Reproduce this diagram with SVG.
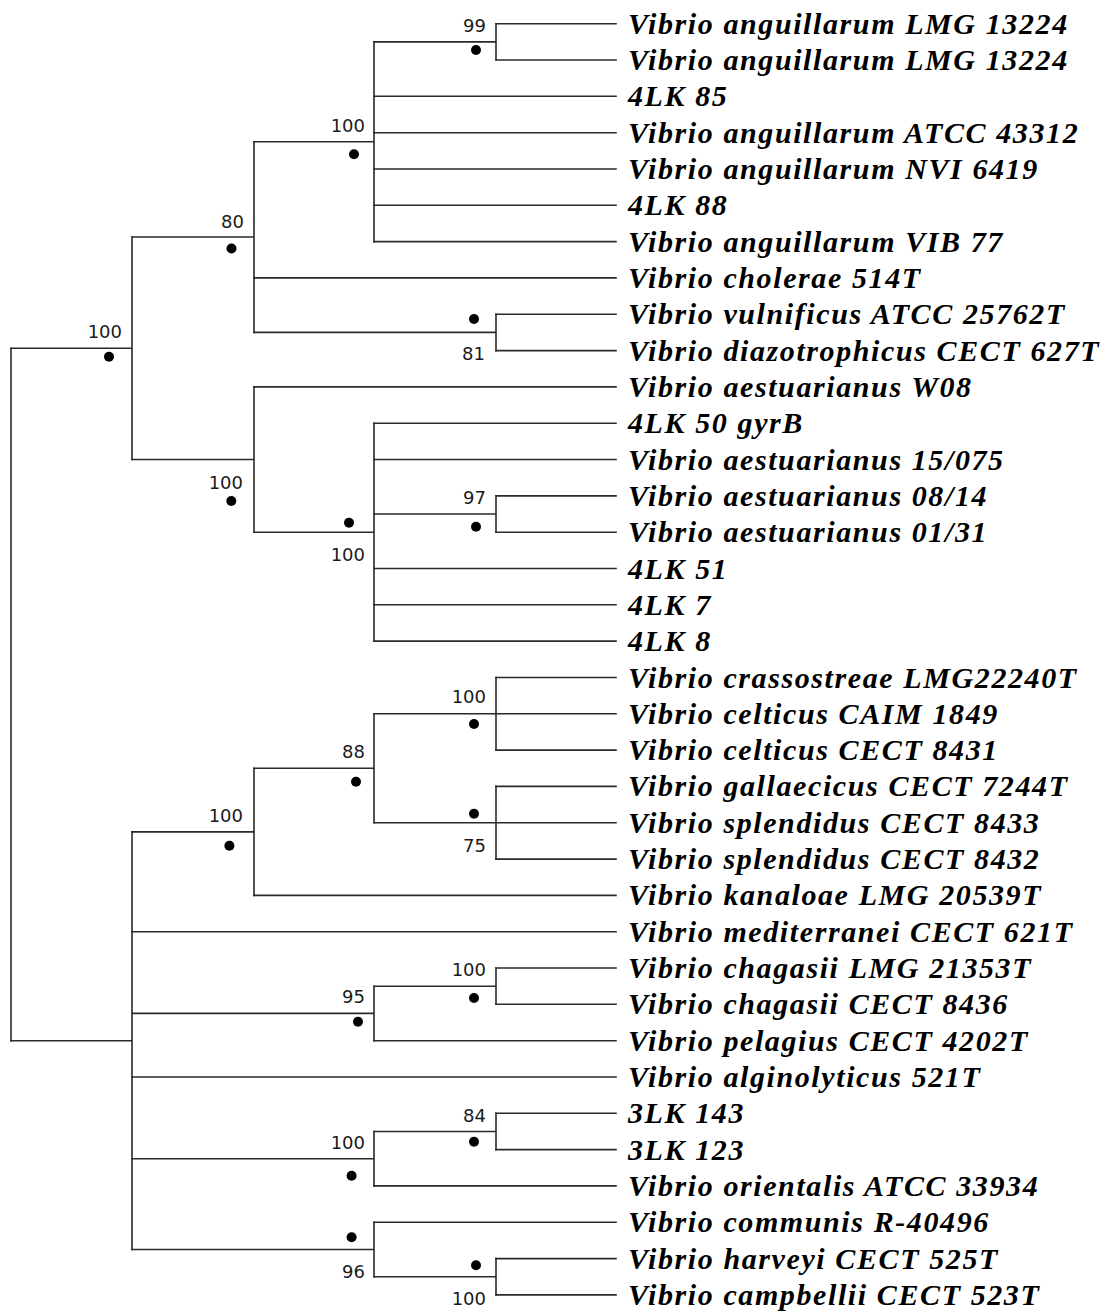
<svg xmlns="http://www.w3.org/2000/svg" width="1105" height="1313" viewBox="0 0 1105 1313">
<style>
.br{fill:none;stroke:#2a2a2a;stroke-width:1.6;stroke-linecap:square}
.lf{font-family:"Liberation Serif","Times New Roman",serif;font-weight:bold;font-style:italic;font-size:30px;letter-spacing:1.6px;fill:#000}
.bs{font-family:"DejaVu Sans",Verdana,sans-serif;font-size:18px;fill:#1a1a1a;text-anchor:end}
.dt{fill:#000}
</style>
<rect width="1105" height="1313" fill="#fff"/>
<g id="connectors" class="br">
<path d="M11 348.3V1040.7"/>
<path d="M11 348.3H132M132 237V459.5"/>
<path d="M132 237H254M254 141.7V332.4"/>
<path d="M254 141.7H374M374 41.9V241.6"/>
<path d="M374 41.9H496M496 23.7V60"/>
<path d="M254 332.4H496M496 314.3V350.6"/>
<path d="M132 459.5H254M254 386.9V532.2"/>
<path d="M254 532.2H374M374 423.2V641.1"/>
<path d="M374 514H496M496 495.9V532.2"/>
<path d="M11 1040.7H132M132 831.9V1249.5"/>
<path d="M132 831.9H254M254 768.3V895.4"/>
<path d="M254 768.3H374M374 713.8V822.7"/>
<path d="M374 713.8H496M496 677.5V750.1"/>
<path d="M374 822.7H496M496 786.4V859.1"/>
<path d="M132 1013.4H374M374 986.2V1040.7"/>
<path d="M374 986.2H496M496 968V1004.3"/>
<path d="M132 1158.7H374M374 1131.5V1185.9"/>
<path d="M374 1131.5H496M496 1113.3V1149.6"/>
<path d="M132 1249.5H374M374 1222.3V1276.7"/>
<path d="M374 1276.7H496M496 1258.6V1294.9"/>
<path d="M496 23.7H616M496 60H616M374 96.3H616M374 132.7H616M374 169H616M374 205.3H616M374 241.6H616M254 277.9H616M496 314.3H616M496 350.6H616"/>
<path d="M254 386.9H616M374 423.2H616M374 459.5H616M496 495.9H616M496 532.2H616M374 568.5H616M374 604.8H616M374 641.1H616"/>
<path d="M496 677.5H616M496 713.8H616M496 750.1H616M496 786.4H616M496 822.7H616M496 859.1H616M254 895.4H616M132 931.7H616"/>
<path d="M496 968H616M496 1004.3H616M374 1040.7H616M132 1077H616M496 1113.3H616M496 1149.6H616M374 1185.9H616M374 1222.3H616M496 1258.6H616M496 1294.9H616"/>
</g>
<g id="n-root-a"><text class="bs" x="122" y="337.7">100</text><circle class="dt" cx="109" cy="356.7" r="5"/></g>
<g id="n-b"><text class="bs" x="244" y="227.7">80</text><circle class="dt" cx="231.5" cy="248.5" r="5"/></g>
<g id="n-d"><text class="bs" x="365" y="131.7">100</text><circle class="dt" cx="354" cy="154.3" r="5"/></g>
<g id="n-f"><text class="bs" x="486" y="32.3">99</text><circle class="dt" cx="476" cy="50" r="5"/></g>
<g id="n-e"><circle class="dt" cx="474" cy="319" r="5"/><text class="bs" x="485" y="360">81</text></g>
<g id="n-c"><text class="bs" x="243" y="489">100</text><circle class="dt" cx="231.3" cy="501" r="5"/></g>
<g id="n-g"><circle class="dt" cx="349" cy="522.7" r="5"/><text class="bs" x="365" y="561">100</text></g>
<g id="n-h"><text class="bs" x="486" y="504">97</text><circle class="dt" cx="476" cy="526.7" r="5"/></g>
<g id="n-i"><text class="bs" x="243" y="821.7">100</text><circle class="dt" cx="229.4" cy="845.7" r="5"/></g>
<g id="n-j"><text class="bs" x="365" y="757.7">88</text><circle class="dt" cx="356" cy="781.7" r="5"/></g>
<g id="n-k"><text class="bs" x="486" y="703.3">100</text><circle class="dt" cx="474" cy="724" r="5"/></g>
<g id="n-l"><circle class="dt" cx="474" cy="813.7" r="5"/><text class="bs" x="486" y="852">75</text></g>
<g id="n-n"><text class="bs" x="365" y="1003.3">95</text><circle class="dt" cx="358" cy="1021.7" r="5"/></g>
<g id="n-q"><text class="bs" x="486" y="975.7">100</text><circle class="dt" cx="474" cy="998" r="5"/></g>
<g id="n-o"><text class="bs" x="365" y="1149">100</text><circle class="dt" cx="351.6" cy="1175.7" r="5"/></g>
<g id="n-r"><text class="bs" x="486" y="1121.7">84</text><circle class="dt" cx="474" cy="1141.7" r="5"/></g>
<g id="n-p"><circle class="dt" cx="351.6" cy="1237.3" r="5"/><text class="bs" x="365" y="1278.3">96</text></g>
<g id="n-s"><circle class="dt" cx="476" cy="1265.3" r="5"/><text class="bs" x="486" y="1305">100</text></g>
<g id="leaves" class="lf">
<g id="leaf0"><text x="628" y="33.7">Vibrio anguillarum LMG 13224</text></g>
<g id="leaf1"><text x="628" y="70">Vibrio anguillarum LMG 13224</text></g>
<g id="leaf2"><text x="628" y="106.3">4LK 85</text></g>
<g id="leaf3"><text x="628" y="142.7">Vibrio anguillarum ATCC 43312</text></g>
<g id="leaf4"><text x="628" y="179">Vibrio anguillarum NVI 6419</text></g>
<g id="leaf5"><text x="628" y="215.3">4LK 88</text></g>
<g id="leaf6"><text x="628" y="251.6">Vibrio anguillarum VIB 77</text></g>
<g id="leaf7"><text x="628" y="287.9">Vibrio cholerae 514T</text></g>
<g id="leaf8"><text x="628" y="324.3">Vibrio vulnificus ATCC 25762T</text></g>
<g id="leaf9"><text x="628" y="360.6">Vibrio diazotrophicus CECT 627T</text></g>
<g id="leaf10"><text x="628" y="396.9">Vibrio aestuarianus W08</text></g>
<g id="leaf11"><text x="628" y="433.2">4LK 50 gyrB</text></g>
<g id="leaf12"><text x="628" y="469.5">Vibrio aestuarianus 15/075</text></g>
<g id="leaf13"><text x="628" y="505.9">Vibrio aestuarianus 08/14</text></g>
<g id="leaf14"><text x="628" y="542.2">Vibrio aestuarianus 01/31</text></g>
<g id="leaf15"><text x="628" y="578.5">4LK 51</text></g>
<g id="leaf16"><text x="628" y="614.8">4LK 7</text></g>
<g id="leaf17"><text x="628" y="651.1">4LK 8</text></g>
<g id="leaf18"><text x="628" y="687.5">Vibrio crassostreae LMG22240T</text></g>
<g id="leaf19"><text x="628" y="723.8">Vibrio celticus CAIM 1849</text></g>
<g id="leaf20"><text x="628" y="760.1">Vibrio celticus CECT 8431</text></g>
<g id="leaf21"><text x="628" y="796.4">Vibrio gallaecicus CECT 7244T</text></g>
<g id="leaf22"><text x="628" y="832.7">Vibrio splendidus CECT 8433</text></g>
<g id="leaf23"><text x="628" y="869.1">Vibrio splendidus CECT 8432</text></g>
<g id="leaf24"><text x="628" y="905.4">Vibrio kanaloae LMG 20539T</text></g>
<g id="leaf25"><text x="628" y="941.7">Vibrio mediterranei CECT 621T</text></g>
<g id="leaf26"><text x="628" y="978">Vibrio chagasii LMG 21353T</text></g>
<g id="leaf27"><text x="628" y="1014.3">Vibrio chagasii CECT 8436</text></g>
<g id="leaf28"><text x="628" y="1050.7">Vibrio pelagius CECT 4202T</text></g>
<g id="leaf29"><text x="628" y="1087">Vibrio alginolyticus 521T</text></g>
<g id="leaf30"><text x="628" y="1123.3">3LK 143</text></g>
<g id="leaf31"><text x="628" y="1159.6">3LK 123</text></g>
<g id="leaf32"><text x="628" y="1195.9">Vibrio orientalis ATCC 33934</text></g>
<g id="leaf33"><text x="628" y="1232.3">Vibrio communis R-40496</text></g>
<g id="leaf34"><text x="628" y="1268.6">Vibrio harveyi CECT 525T</text></g>
<g id="leaf35"><text x="628" y="1304.9">Vibrio campbellii CECT 523T</text></g>
</g>
</svg>
